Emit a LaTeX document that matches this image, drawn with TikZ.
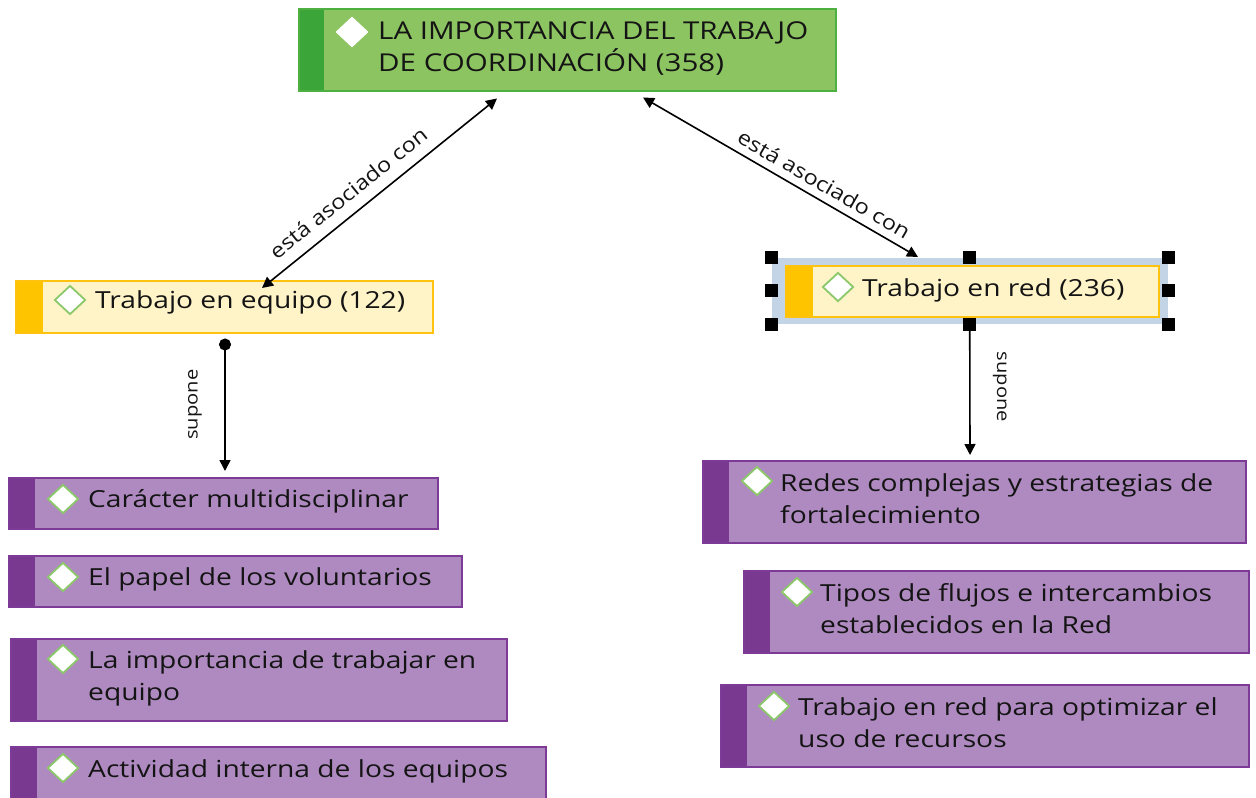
\documentclass[tikz,border=0pt]{standalone}
\usepackage{fontspec}
\setmainfont{Open Sans}[FakeStretch=1.2]
\newfontfamily\lblfont{Open Sans}[FakeStretch=1.15]
\usetikzlibrary{arrows.meta,shapes.geometric,calc}
\definecolor{gfill}{HTML}{8DC462}
\definecolor{gline}{HTML}{4DB040}
\definecolor{gstrip}{HTML}{3BA53A}
\definecolor{yfill}{HTML}{FFF3C8}
\definecolor{yline}{HTML}{FFC20E}
\definecolor{ystrip}{HTML}{FFC400}
\definecolor{pfill}{HTML}{AF8AC1}
\definecolor{pline}{HTML}{7E3A97}
\definecolor{pstrip}{HTML}{7A3990}
\definecolor{selband}{HTML}{C4D4E7}
\definecolor{dgreen}{HTML}{8BC86A}
\definecolor{txtc}{HTML}{141414}
\tikzset{
  box/.style={rectangle, anchor=north west, inner sep=0pt, line width=1.5pt},
  gbox/.style={box, fill=gfill, draw=gline, path picture={\fill[gstrip] (path picture bounding box.north west) rectangle ([xshift=25pt]path picture bounding box.south west);}},
  ybox/.style={box, fill=yfill, draw=yline, path picture={\fill[ystrip] (path picture bounding box.north west) rectangle ([xshift=27pt]path picture bounding box.south west);}},
  pbox/.style={box, fill=pfill, draw=pline, path picture={\fill[pstrip] (path picture bounding box.north west) rectangle ([xshift=26pt]path picture bounding box.south west);}},
  dia/.style={diamond, minimum width=31pt, minimum height=29pt, inner sep=0pt, fill=white, draw=dgreen, line width=1.8pt},
  wdia/.style={dia, draw=white},
  txt/.style={inner sep=0pt, anchor=base west, align=left, text=txtc, font=\fontsize{23.5}{32}\selectfont},
  ttxt/.style={txt, font=\fontsize{24.6}{32}\selectfont},
  lbl/.style={inner sep=0pt, text=txtc, font=\lblfont\fontsize{20.5}{22}\selectfont},
  vlbl/.style={inner sep=0pt, text=txtc, font=\lblfont\fontsize{17.5}{20}\selectfont},
  conn/.style={line width=1.6pt, black, >={Triangle[length=11pt,width=11pt]}},
  handle/.style={rectangle, fill=black, minimum size=13pt, inner sep=0pt}
}
\begin{document}
\begin{tikzpicture}[x=1pt,y=-1pt]
\useasboundingbox (0,0) rectangle (1256,798);
% top node
\node[gbox, minimum width=537pt, minimum height=82pt] (top) at (298,8) {};
\node[wdia] (topd) at (352,32) {};
\node[ttxt] (topt) at (378,71) {LA IMPORTANCIA DEL TRABAJO\\DE COORDINACIÓN (358)};
% left yellow
\node[ybox, minimum width=417pt, minimum height=52pt] (ty) at (15,280) {};
\node[dia] (tyd) at (70,300) {};
\node[txt] (tyt) at (95,308) {Trabajo en equipo (122)};
% right yellow with selection
\node[box, fill=selband, minimum width=396pt, minimum height=66pt] (sel) at (771,257) {};
\node[ybox, minimum width=373pt, minimum height=51pt] (ry) at (785,265) {};
\node[dia] (ryd) at (838,287) {};
\node[txt] (ryt) at (862,296) {Trabajo en red (236)};
\node[handle] (h1) at (sel.north west) {};
\node[handle] (h2) at (sel.north) {};
\node[handle] (h3) at (sel.north east) {};
\node[handle] (h4) at (sel.west) {};
\node[handle] (h5) at (sel.east) {};
\node[handle] (h6) at (sel.south west) {};
\node[handle] (h7) at (sel.south) {};
\node[handle] (h8) at (sel.south east) {};
% left purple
\node[pbox, minimum width=429pt, minimum height=51pt] (p1) at (8,477) {};
\node[dia] (p1d) at (63,499) {};
\node[txt] (p1t) at (88,507) {Carácter multidisciplinar};
\node[pbox, minimum width=453pt, minimum height=51pt] (p2) at (8,555) {};
\node[dia] (p2d) at (63,577) {};
\node[txt] (p2t) at (88,585) {El papel de los voluntarios};
\node[pbox, minimum width=496pt, minimum height=82pt] (p3) at (10,638) {};
\node[dia] (p3d) at (63,659) {};
\node[txt] (p3t) at (88,700) {La importancia de trabajar en\\equipo};
\node[pbox, minimum width=535pt, minimum height=56pt] (p4) at (10,746) {};
\node[dia] (p4d) at (63,768) {};
\node[txt] (p4t) at (88,777) {Actividad interna de los equipos};
% right purple
\node[pbox, minimum width=543pt, minimum height=82pt] (r1) at (702,460) {};
\node[dia] (r1d) at (757,481) {};
\node[txt] (r1t) at (780,523) {Redes complejas y estrategias de\\fortalecimiento};
\node[pbox, minimum width=505pt, minimum height=82pt] (r2) at (743,570) {};
\node[dia] (r2d) at (797,592) {};
\node[txt] (r2t) at (820,633) {Tipos de flujos e intercambios\\establecidos en la Red};
\node[pbox, minimum width=528pt, minimum height=82pt] (r3) at (720,684) {};
\node[dia] (r3d) at (774,706) {};
\node[txt] (r3t) at (798,747) {Trabajo en red para optimizar el\\uso de recursos};
% connectors
\draw[conn, <->] ([xshift=247pt,yshift=-8pt]ty.north west) -- node[lbl, sloped, pos=0.42, above=20pt, anchor=center] {está asociado con} ([xshift=199pt,yshift=-7pt]top.south west);
\draw[conn, <->] ([xshift=345pt,yshift=-6pt]top.south west) -- node[lbl, sloped, pos=0.63, above=16pt, anchor=center] {está asociado con} ([xshift=133pt,yshift=8pt]ry.north west);
\draw[conn, {Circle[length=12pt]}->] ([xshift=210pt,yshift=-5pt]ty.south west) -- node[vlbl, midway, xshift=-30pt, rotate=90] {supone} ([xshift=217pt,yshift=6pt]p1.north west);
\draw[conn, ->] (h7.south) -- node[vlbl, pos=0.45, xshift=30pt, rotate=-90] {supone} ([xshift=268pt,yshift=5pt]r1.north west);
\end{tikzpicture}
\end{document}
